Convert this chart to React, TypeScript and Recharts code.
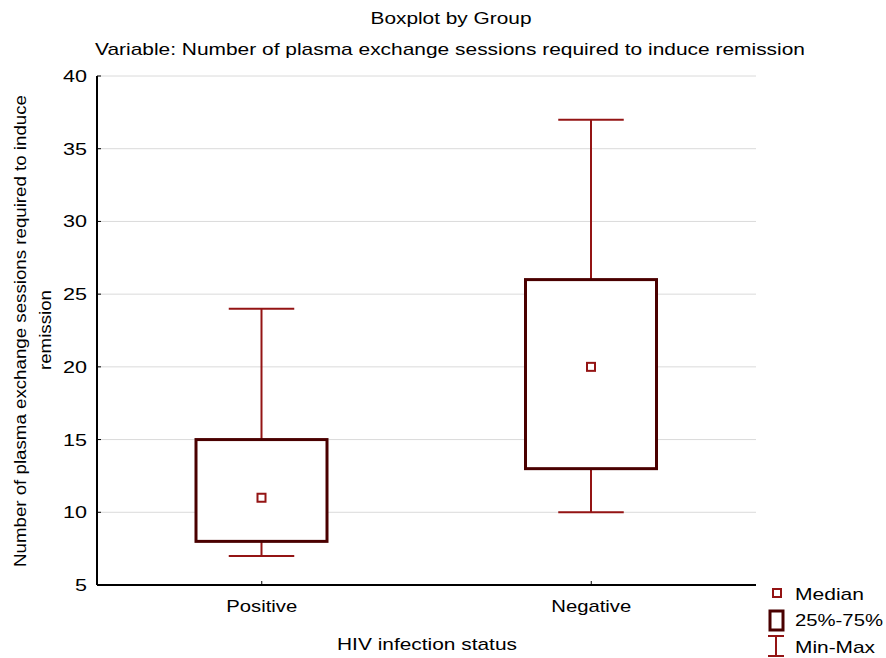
import React from 'react';
import { ComposedChart, Bar, XAxis, YAxis, CartesianGrid } from 'recharts';

// values
const groups = ['Positive', 'Negative'];
const minValues = [7, 10];
const q1Values = [8, 13];
const medianValues = [11, 20];
const q3Values = [15, 26];
const maxValues = [24, 37];
const yTicks = [5, 10, 15, 20, 25, 30, 35, 40];

const data = groups.map((group, i) => ({
    group,
    range: [minValues[i], maxValues[i]],
    min: minValues[i],
    q1: q1Values[i],
    median: medianValues[i],
    q3: q3Values[i],
    max: maxValues[i],
}));

const FONT = '"Liberation Sans", Arial, sans-serif';
const BOX_COLOR = '#4a0000';
const WHISKER_COLOR = '#941414';

// the source image is stretched sideways, so text gets a fixed length
const Txt = ({ x, y, w, anchor = 'middle', transform, children }: any) => (
    <text
        x={x}
        y={y}
        textLength={w}
        lengthAdjust="spacingAndGlyphs"
        textAnchor={anchor}
        transform={transform}
        fontFamily={FONT}
        fontSize={17}
        fill="#000"
    >
        {children}
    </text>
);

const BoxShape = (props: any) => {
    const { x, y, width, height, payload } = props;
    const [lo, hi] = payload.range;
    const py = (v: number) => y + (height * (hi - v)) / (hi - lo);
    const cx = x + width / 2;
    const cap = width / 4;
    return (
        <g>
            <line x1={cx} x2={cx} y1={py(payload.max)} y2={py(payload.q3)} stroke={WHISKER_COLOR} strokeWidth={2} />
            <line x1={cx} x2={cx} y1={py(payload.q1)} y2={py(payload.min)} stroke={WHISKER_COLOR} strokeWidth={2} />
            <line x1={cx - cap} x2={cx + cap} y1={py(payload.max)} y2={py(payload.max)} stroke={WHISKER_COLOR} strokeWidth={2} />
            <line x1={cx - cap} x2={cx + cap} y1={py(payload.min)} y2={py(payload.min)} stroke={WHISKER_COLOR} strokeWidth={2} />
            <rect
                x={x}
                y={py(payload.q3)}
                width={width}
                height={py(payload.q1) - py(payload.q3)}
                fill="#fff"
                stroke={BOX_COLOR}
                strokeWidth={3}
            />
            <rect x={cx - 4} y={py(payload.median) - 4} width={8} height={8} fill="#fff" stroke={WHISKER_COLOR} strokeWidth={2} />
        </g>
    );
};

const LeftTick = ({ x, y, payload }: any) => {
    const label = String(payload.value);
    return (
        <g>
            <line x1={x} x2={x + 4} y1={y} y2={y} stroke="#000" />
            <Txt x={x - 10} y={y + 6} w={label.length * 12} anchor="end">{label}</Txt>
        </g>
    );
};

const RightTick = ({ x, y }: any) => (
    <line x1={x - 4} x2={x} y1={y} y2={y} stroke="#000" />
);

const BottomTick = ({ x, y, payload }: any) => (
    <g>
        <line x1={x} x2={x} y1={y - 4} y2={y} stroke="#000" />
        <Txt x={x} y={y + 27} w={payload.value === 'Positive' ? 71 : 80}>{payload.value}</Txt>
    </g>
);

const TopTick = ({ x, y }: any) => (
    <line x1={x} x2={x} y1={y} y2={y + 4} stroke="#000" />
);

const LegendBlock = () => (
    <g>
        <rect x={773} y={589} width={8} height={8} fill="#fff" stroke={WHISKER_COLOR} strokeWidth={2} />
        <Txt x={795} y={600} w={69} anchor="start">Median</Txt>
        <rect x={770} y={611} width={13} height={19} fill="#fff" stroke={BOX_COLOR} strokeWidth={3} />
        <Txt x={795} y={626} w={88} anchor="start">25%-75%</Txt>
        <line x1={776} x2={776} y1={636} y2={656} stroke={WHISKER_COLOR} strokeWidth={2} />
        <line x1={768} x2={784} y1={636} y2={636} stroke={WHISKER_COLOR} strokeWidth={2} />
        <line x1={768} x2={784} y1={656} y2={656} stroke={WHISKER_COLOR} strokeWidth={2} />
        <Txt x={795} y={653} w={80} anchor="start">Min-Max</Txt>
    </g>
);

export default function App() {
    return (
        <div style={{ position: 'absolute', left: 0, top: 0, width: 886, height: 658, background: '#fff' }}>
            <ComposedChart
                width={886}
                height={658}
                data={data}
                margin={{ top: 76, right: 130, bottom: 0, left: 0 }}
            >
                <CartesianGrid xAxisId="bottom" yAxisId="left" vertical={false} stroke="#dadada" />
                <XAxis
                    xAxisId="bottom"
                    dataKey="group"
                    height={73}
                    tickSize={0}
                    tickMargin={0}
                    tick={<BottomTick />}
                    axisLine={{ stroke: '#000', strokeWidth: 2 }}
                />
                <XAxis
                    xAxisId="top"
                    orientation="top"
                    dataKey="group"
                    height={0}
                    tickSize={0}
                    tickMargin={0}
                    tick={<TopTick />}
                    axisLine={{ stroke: '#000', strokeWidth: 2 }}
                />
                <YAxis
                    yAxisId="left"
                    type="number"
                    domain={[5, 40]}
                    ticks={yTicks}
                    width={97}
                    tickSize={0}
                    tickMargin={0}
                    tick={<LeftTick />}
                    axisLine={{ stroke: '#000', strokeWidth: 2 }}
                />
                <YAxis
                    yAxisId="right"
                    orientation="right"
                    type="number"
                    domain={[5, 40]}
                    ticks={yTicks}
                    width={0}
                    tickSize={0}
                    tickMargin={0}
                    tick={<RightTick />}
                    axisLine={{ stroke: '#000', strokeWidth: 2 }}
                />
                <Bar
                    xAxisId="bottom"
                    yAxisId="left"
                    dataKey="range"
                    barSize={131}
                    shape={<BoxShape />}
                    isAnimationActive={false}
                />
                <Txt x={451} y={24} w={161}>Boxplot by Group</Txt>
                <Txt x={450} y={55} w={710}>
                    Variable: Number of plasma exchange sessions required to induce remission
                </Txt>
                <Txt x={-331} y={26} w={472} transform="rotate(-90)">
                    Number of plasma exchange sessions required to induce
                </Txt>
                <Txt x={-330} y={51} w={80} transform="rotate(-90)">remission</Txt>
                <Txt x={427} y={650} w={180}>HIV infection status</Txt>
                <LegendBlock />
            </ComposedChart>
        </div>
    );
}
